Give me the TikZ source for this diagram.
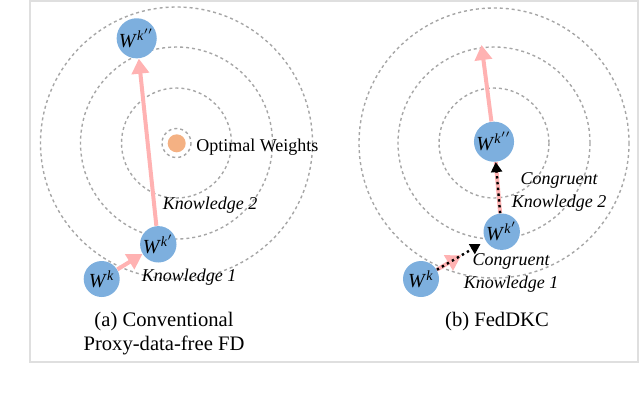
\documentclass[tikz,border=0pt]{standalone}
\usepackage{fontspec}
\setmainfont{Liberation Serif}
\usepackage{xcolor}
\usetikzlibrary{positioning,arrows.meta,calc}

\definecolor{wblue}{RGB}{125,175,222}
\definecolor{optorange}{RGB}{244,177,131}
\definecolor{kpink}{RGB}{255,178,178}

\begin{document}
\begin{tikzpicture}[x=0.5pt, y=-0.5pt,
    weight/.style={circle, fill=wblue, minimum size=18pt, inner sep=0pt,
                   font=\fontsize{10}{12}\selectfont},
    optdot/.style={circle, fill=optorange, minimum size=9pt, inner sep=0pt},
    ring/.style={draw=gray!70, line width=0.7pt, dash pattern=on 1.5pt off 1.5pt},
    know/.style={-{Triangle[length=7.5pt, width=8.5pt]}, draw=kpink, line width=2pt},
    knowline/.style={draw=kpink, line width=2pt},
    congr/.style={-{Triangle[length=5pt, width=5.5pt]}, draw=black, line width=1.2pt,
                  dash pattern=on 1.2pt off 1.7pt},
    klab/.style={font=\fontsize{9}{11.5}\selectfont\itshape, align=center, inner sep=0pt},
    olab/.style={font=\fontsize{9}{11}\selectfont, inner sep=0pt},
    subcap/.style={font=\fontsize{10.3}{12}\selectfont, align=center, inner sep=0pt}
]
\useasboundingbox (0,0) rectangle (640,393);

% --- outer frame ---
\draw[gray!25, line width=0.6pt] (30,1) rectangle (638,362);

% --- (a) contour rings round the optimum ---
\foreach \r in {14.5,55,96,136}
    \draw[ring] (176.5,143) circle[radius=\r];

% --- (b) contour rings ---
\foreach \r in {55,96,135}
    \draw[ring] (494,143) circle[radius=\r];

% --- (a) weights ---
\node[optdot] (opt) at (176.7,143.3) {};
\node[weight] (wka)   at (101.7,279)   {\textit{W}\textsuperscript{\textit{k}}};
\node[weight] (wkpa)  at (158.3,244.3) {\textit{W}\textsuperscript{\textit{k}$'$}};
\node[weight] (wkppa) at (136.7,38.3)  {\textit{W}\textsuperscript{\textit{k}$''$}};

% --- (b) weights ---
\node[weight] (wkb)   at (421,279)     {\textit{W}\textsuperscript{\textit{k}}};
\node[weight] (wkpb)  at (501.7,231.7) {\textit{W}\textsuperscript{\textit{k}$'$}};
\node[weight] (wkppb) at (494,141.7)   {\textit{W}\textsuperscript{\textit{k}$''$}};
\coordinate (half1) at ($(wkb)!0.5!(wkpb)$);
\coordinate (goal)  at (481.5,45);

% --- (a) knowledge steps ---
\draw[know] (wka)  -- (wkpa);
\draw[know] (wkpa) -- (wkppa);

% --- (b) raw knowledge under congruent knowledge ---
\draw[know] (wkb) -- (half1);
\draw[knowline] (wkpb) -- (wkppb);
\draw[know] (wkppb) -- (goal);
\draw[congr, shorten >=3pt] (wkb) -- (wkpb);
\draw[congr] (wkpb) -- (wkppb);

% --- labels ---
\node[olab, anchor=west] (optlab) at (196,147.5) {Optimal Weights};
\node[klab] (k2a) at (210,205) {Knowledge 2};
\node[klab] (k1a) at (189,277) {Knowledge 1};
\node[klab] (k2b) at (559,192) {Congruent\\Knowledge 2};
\node[klab] (k1b) at (511,273) {Congruent\\Knowledge 1};

% --- sub-captions ---
\node[subcap] (capa) at (164,334) {(a) Conventional\\Proxy-data-free FD};
\node[subcap] (capb) at (497,322) {(b) FedDKC};

\end{tikzpicture}
\end{document}
